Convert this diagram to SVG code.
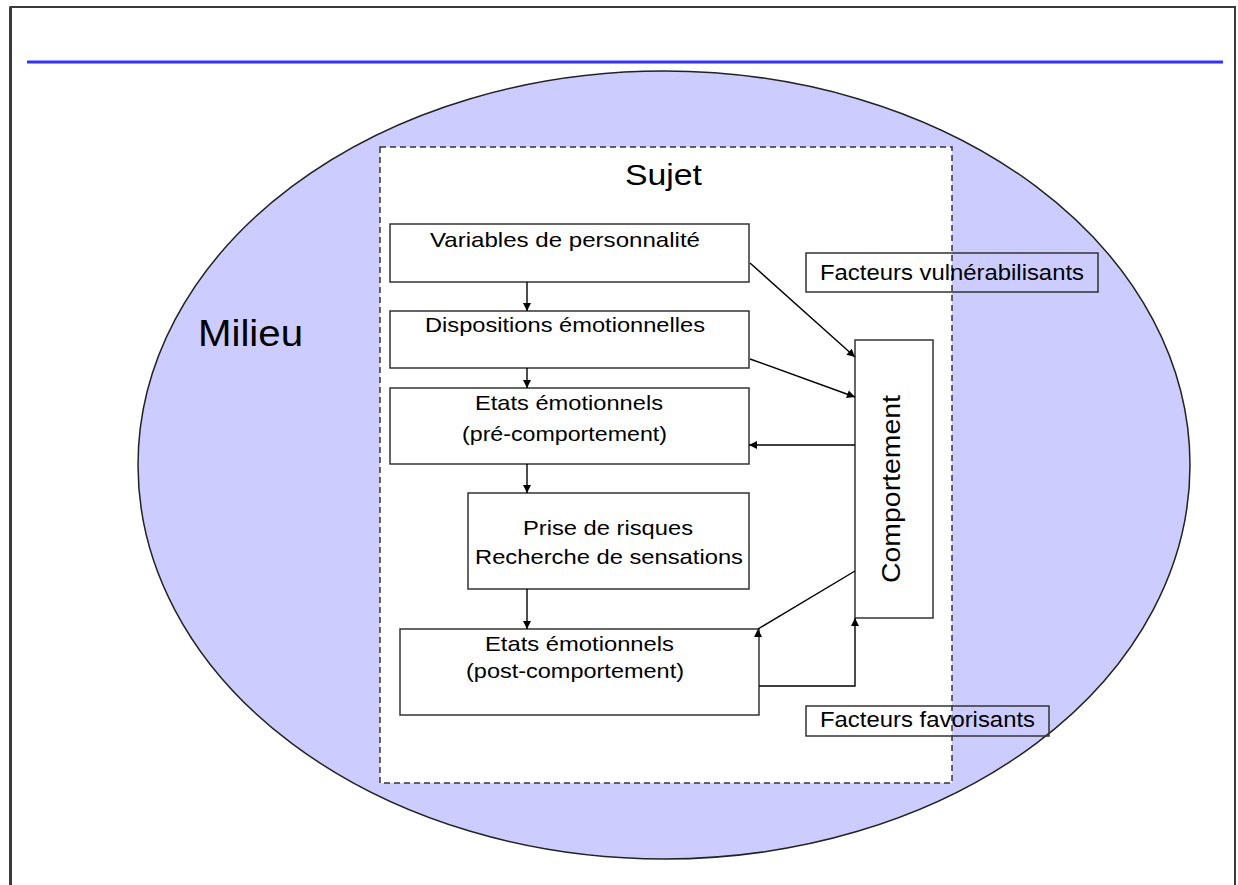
<svg xmlns="http://www.w3.org/2000/svg" width="1238" height="885" viewBox="0 0 1238 885">
<style>
.box{fill:#ffffff;stroke:#333333;stroke-width:1.5}
.tag{fill:none;stroke:#333333;stroke-width:1.5}
.t{font-family:"Liberation Sans",Arial,sans-serif;font-size:21px;fill:#000000;text-anchor:middle}
.c{fill:none;stroke:#000000;stroke-width:1.4}
</style>
<defs>
<marker id="ah" viewBox="0 0 10 10" refX="10" refY="5" markerWidth="9" markerHeight="8" markerUnits="userSpaceOnUse" orient="auto">
<path d="M0,0 L10,5 L0,10 z" fill="#000000"/>
</marker>
<marker id="ahUp" viewBox="0 0 10 10" refX="10" refY="5" markerWidth="9" markerHeight="8" markerUnits="userSpaceOnUse" orient="270">
<path d="M0,0 L10,5 L0,10 z" fill="#000000"/>
</marker>
</defs>
<rect x="0" y="0" width="1238" height="885" fill="#ffffff"/>
<g id="frame">
<path d="M10.5,890 L10.5,7 L1235,7 L1235,890" fill="none" stroke="#3a3a3a" stroke-width="2"/>
<line x1="10.5" y1="7" x2="10.5" y2="890" stroke="#3a3a3a" stroke-width="3"/>
<line x1="27" y1="62" x2="1223" y2="62" stroke="#3333ff" stroke-width="3"/>
</g>
<g id="milieu">
<ellipse cx="664" cy="465" rx="526" ry="394" fill="#ccccff" stroke="#222222" stroke-width="1.5"/>
<text x="250.5" y="346" class="t" style="font-size:37px" textLength="105" lengthAdjust="spacingAndGlyphs">Milieu</text>
</g>
<g id="sujet">
<rect x="380" y="147" width="572" height="636" fill="#ffffff" stroke="#333333" stroke-width="1.5" stroke-dasharray="6,4"/>
<text x="663.5" y="185" class="t" style="font-size:30px" textLength="77" lengthAdjust="spacingAndGlyphs">Sujet</text>
</g>
<g id="facteurs-vulnerabilisants">
<rect x="806" y="253" width="292" height="39" class="tag"/>
<text x="952" y="280" class="t" style="font-size:22px" textLength="264" lengthAdjust="spacingAndGlyphs">Facteurs vulnérabilisants</text>
</g>
<g id="facteurs-favorisants">
<rect x="806" y="706" width="243" height="30" class="tag"/>
<text x="927.5" y="727" class="t" style="font-size:22px" textLength="215" lengthAdjust="spacingAndGlyphs">Facteurs favorisants</text>
</g>
<g id="variables-personnalite">
<rect x="390" y="224" width="359" height="58" class="box"/>
<text x="565" y="247" class="t" textLength="270" lengthAdjust="spacingAndGlyphs">Variables de personnalité</text>
</g>
<g id="dispositions-emotionnelles">
<rect x="390" y="311" width="359" height="57" class="box"/>
<text x="565" y="332" class="t" textLength="280" lengthAdjust="spacingAndGlyphs">Dispositions émotionnelles</text>
</g>
<g id="etats-pre">
<rect x="390" y="388" width="359" height="76" class="box"/>
<text x="569" y="410" class="t" textLength="188" lengthAdjust="spacingAndGlyphs">Etats émotionnels</text>
<text x="564.5" y="441" class="t" textLength="205" lengthAdjust="spacingAndGlyphs">(pré-comportement)</text>
</g>
<g id="prise-risques">
<rect x="468" y="493" width="281" height="96" class="box"/>
<text x="608" y="535" class="t" textLength="170" lengthAdjust="spacingAndGlyphs">Prise de risques</text>
<text x="609" y="564" class="t" textLength="268" lengthAdjust="spacingAndGlyphs">Recherche de sensations</text>
</g>
<g id="etats-post">
<rect x="400" y="629" width="359" height="86" class="box"/>
<text x="579.5" y="651" class="t" textLength="189" lengthAdjust="spacingAndGlyphs">Etats émotionnels</text>
<text x="575" y="678" class="t" textLength="218" lengthAdjust="spacingAndGlyphs">(post-comportement)</text>
</g>
<g id="comportement">
<rect x="855" y="340" width="78" height="278" class="box"/>
<text x="900" y="489" class="t" style="font-size:26px" textLength="188" lengthAdjust="spacingAndGlyphs" transform="rotate(-90 900 489)">Comportement</text>
</g>
<g id="connectors">
<line x1="527" y1="282" x2="527" y2="311" class="c" marker-end="url(#ah)"/>
<line x1="527" y1="368" x2="527" y2="388" class="c" marker-end="url(#ah)"/>
<line x1="527" y1="464" x2="527" y2="493" class="c" marker-end="url(#ah)"/>
<line x1="527" y1="589" x2="527" y2="629" class="c" marker-end="url(#ah)"/>
<line x1="750" y1="263" x2="855" y2="357" class="c" marker-end="url(#ah)"/>
<line x1="750" y1="359" x2="855" y2="397" class="c" marker-end="url(#ah)"/>
<line x1="855" y1="445" x2="749" y2="445" class="c" marker-end="url(#ah)"/>
<line x1="855" y1="571" x2="758" y2="629" class="c" marker-end="url(#ahUp)"/>
<polyline points="759,686 855,686 855,618" class="c" marker-end="url(#ah)"/>
</g>
</svg>
